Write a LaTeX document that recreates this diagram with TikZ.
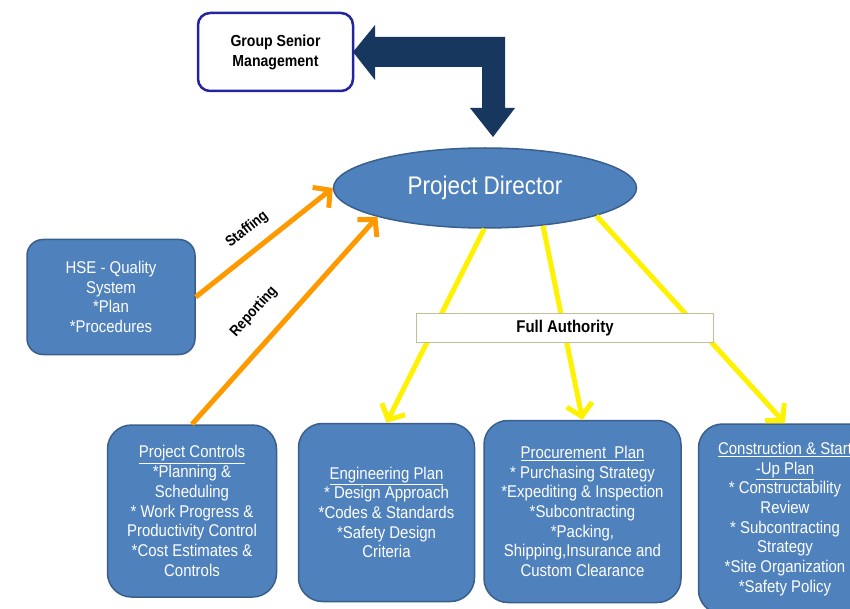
\documentclass[tikz,border=0pt]{standalone}
\usepackage{fontspec}
\setmainfont{Liberation Sans}[FakeStretch=0.88]
\usetikzlibrary{arrows.meta,shapes.geometric}

\definecolor{boxblue}{HTML}{4F81BD}
\definecolor{boxrand}{HTML}{3A5F8C}
\definecolor{navy}{HTML}{17375E}
\definecolor{gsmrand}{HTML}{2424A0}
\definecolor{orangepfeil}{HTML}{FF9900}
\definecolor{tanrand}{HTML}{C4BD97}

\begin{document}
\begin{tikzpicture}[x=1pt,y=-1pt,
  plan/.style={draw=boxrand,line width=1.5pt,fill=boxblue,rounded corners=24pt,text=white,
    align=center,inner sep=0pt,font=\fontsize{17}{19.7}\selectfont},
  orangearr/.style={draw=orangepfeil,line width=5pt,-{Straight Barb[length=12pt,width=26pt]}},
  yellowarr/.style={draw=yellow,line width=5pt,-{Straight Barb[length=12pt,width=26pt]}},
  lbl/.style={font=\fontsize{15}{18}\selectfont\bfseries,sloped}]
  % Rahmen
  \fill[white] (0,0) rectangle (850,609);
  \useasboundingbox (0,0) rectangle (850,609);
  % Leitung
  \node[draw=gsmrand,line width=2.5pt,fill=white,rounded corners=12pt,minimum width=155pt,
    minimum height=78pt,align=center,inner sep=0pt,font=\fontsize{16}{20}\selectfont\bfseries]
    (gsm) at (275.5,52) {Group Senior\\Management};
  \node[ellipse,draw=boxrand,line width=1.5pt,fill=boxblue,minimum width=303pt,minimum height=80pt,
    inner sep=0pt,text=white,font=\fontsize{25.5}{30}\selectfont] (director) at (485,188) {Project Director};
  % Doppelpfeil
  \fill[navy] (353,52) -- (375,25) -- (375,37) -- (505,37) -- (505,108) -- (515,108) -- (493,137)
    -- (470,108) -- (482,108) -- (482,67) -- (375,67) -- (375,80) -- cycle;
  % Bereiche
  \node[plan,rounded corners=16pt,minimum width=168pt,minimum height=115pt] (hse) at (111,297)
    {HSE - Quality\\System\\*Plan\\*Procedures};
  \node[plan,minimum width=169pt,minimum height=172pt] (ctrl) at (192,511)
    {\underline{Project Controls}\\*Planning \&\\Scheduling\\* Work Progress \&\\Productivity Control\\*Cost Estimates \&\\Controls};
  \node[plan,minimum width=176pt,minimum height=178pt] (eng) at (386.5,512.5)
    {\underline{Engineering Plan}\\* Design Approach\\*Codes \& Standards\\*Safety Design\\Criteria};
  \node[plan,minimum width=197pt,minimum height=182pt] (proc) at (582.5,511.5)
    {\underline{Procurement\ \ Plan}\\* Purchasing Strategy\\*Expediting \& Inspection\\*Subcontracting\\*Packing,\\Shipping,Insurance and\\Custom Clearance};
  \node[plan,minimum width=173pt,minimum height=190pt] (cons) at (785,519)
    {\underline{Construction \& Start}\\\underline{-Up Plan}\\* Constructability\\Review\\* Subcontracting\\Strategy\\*Site Organization\\*Safety Policy};
  % Pfeile
  \draw[yellowarr] (director.-91) -- (eng.north);
  \draw[yellowarr] (director.-33) -- (proc.north);
  \draw[yellowarr] (director.-14) -- (cons.north);
  \node[draw=tanrand,line width=1.2pt,fill=white,minimum width=297pt,minimum height=29pt,inner sep=0pt,
    font=\fontsize{17}{20}\selectfont\bfseries] (auth) at (565,328) {Full Authority};
  \draw[orangearr] (hse.east) -- node[lbl,above=8pt,pos=.47] {Staffing} (director.west);
  \draw[orangearr] (ctrl.north) -- node[lbl,above=16pt,pos=.45] {Reporting} (director.195);
\end{tikzpicture}
\end{document}
